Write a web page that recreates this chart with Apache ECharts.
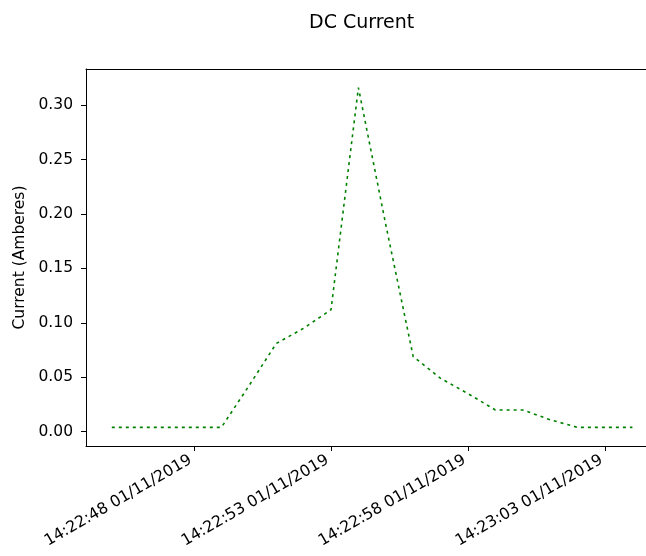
<!DOCTYPE html>
<html>
<head>
<meta charset="utf-8">
<script src="https://cdn.jsdelivr.net/npm/echarts@6/dist/echarts.min.js"></script>
<style>html,body{margin:0;padding:0;background:#fff;}#c{width:646px;height:556px;}</style>
</head>
<body>
<div id="c"></div>
<script>
const times = [
  '2019-11-01 14:22:45','2019-11-01 14:22:46','2019-11-01 14:22:47','2019-11-01 14:22:48',
  '2019-11-01 14:22:49','2019-11-01 14:22:50','2019-11-01 14:22:51','2019-11-01 14:22:52',
  '2019-11-01 14:22:53','2019-11-01 14:22:54','2019-11-01 14:22:55','2019-11-01 14:22:56',
  '2019-11-01 14:22:57','2019-11-01 14:22:58','2019-11-01 14:22:59','2019-11-01 14:23:00',
  '2019-11-01 14:23:01','2019-11-01 14:23:02','2019-11-01 14:23:03','2019-11-01 14:23:04'
];
const current = [0.004,0.004,0.004,0.004,0.004,0.042,0.081,0.095,0.112,0.316,
                 0.19,0.069,0.049,0.035,0.020,0.020,0.011,0.004,0.004,0.004];
const xTicks = ['2019-11-01 14:22:48','2019-11-01 14:22:53','2019-11-01 14:22:58','2019-11-01 14:23:03'];
const yTicks = [0, 0.05, 0.10, 0.15, 0.20, 0.25, 0.30];

const FONT = 'DejaVu Sans';
const pad = n => String(n).padStart(2, '0');
function toMs(s) {
  const m = s.match(/(\d+)-(\d+)-(\d+) (\d+):(\d+):(\d+)/);
  return Date.UTC(+m[1], +m[2] - 1, +m[3], +m[4], +m[5], +m[6]);
}
function fmtTime(v) {
  const d = new Date(Math.round(v));
  return pad(d.getUTCHours()) + ':' + pad(d.getUTCMinutes()) + ':' + pad(d.getUTCSeconds()) + ' ' +
         pad(d.getUTCDate()) + '/' + pad(d.getUTCMonth() + 1) + '/' + d.getUTCFullYear();
}
const xMin = toMs('2019-11-01 14:22:44') + 58;
const xMax = toMs('2019-11-01 14:23:04') + 496;

const chart = echarts.init(document.getElementById('c'), null, {renderer: 'canvas'});
chart.setOption({
  animation: false,
  backgroundColor: '#fff',
  title: {
    text: 'DC Current', left: 309, top: 14, padding: 0,
    textStyle: {fontFamily: FONT, fontSize: 19, fontWeight: 'normal', color: '#000'}
  },
  grid: {left: 86, top: 69, right: 0, bottom: 110, show: false, containLabel: false},
  xAxis: [{
    type: 'value', min: xMin, max: xMax, scale: true, position: 'bottom',
    axisLine: {show: true, onZero: false, lineStyle: {color: '#000', width: 1}},
    axisTick: {show: true, length: 5, lineStyle: {color: '#000'}, customValues: xTicks.map(toMs)},
    splitLine: {show: false},
    axisLabel: {
      customValues: xTicks.map(toMs), rotate: 30, margin: 11, fontSize: 15.8, fontFamily: FONT, color: '#000',
      padding: [0, 4, 0, 0],
      formatter: v => fmtTime(v), hideOverlap: false
    }
  }, {
    type: 'value', min: xMin, max: xMax, scale: true, position: 'top',
    axisLine: {show: true, onZero: false, lineStyle: {color: '#000', width: 1}},
    axisTick: {show: false}, axisLabel: {show: false}, splitLine: {show: false}
  }],
  yAxis: {
    type: 'value', min: -0.0131, max: 0.3331,
    name: 'Current (Amberes)', nameLocation: 'middle', nameGap: 54,
    nameTextStyle: {fontFamily: FONT, fontSize: 15.5, color: '#000'},
    axisLine: {show: true, lineStyle: {color: '#000', width: 1}},
    axisTick: {show: true, length: 5, lineStyle: {color: '#000'}, customValues: yTicks},
    splitLine: {show: false},
    axisLabel: {
      customValues: yTicks, margin: 13, fontSize: 15.5, fontFamily: FONT, color: '#000',
      formatter: v => Number(v).toFixed(2)
    }
  },
  series: [{
    type: 'line', xAxisIndex: 0,
    data: times.map((t, i) => [toMs(t), current[i]]),
    symbol: 'none', showSymbol: false,
    lineStyle: {color: '#008000', width: 1.6, type: [3, 4]}
  }]
});
</script>
</body>
</html>
